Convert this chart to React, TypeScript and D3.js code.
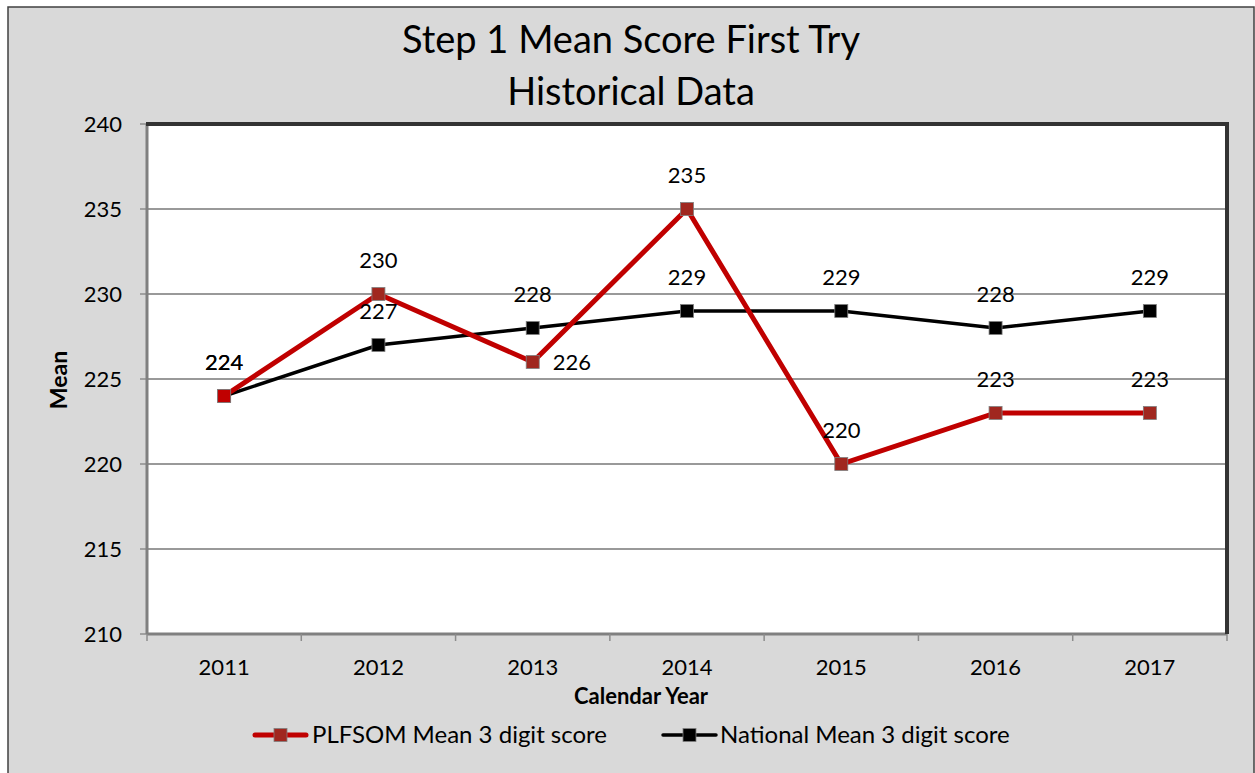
import React from 'react';
import * as d3 from 'd3';

const years = ['2011', '2012', '2013', '2014', '2015', '2016', '2017'];
const plfsomMean = [224, 230, 226, 235, 220, 223, 223];
const nationalMean = [224, 227, 228, 229, 229, 228, 229];
const yTicks = [210, 215, 220, 225, 230, 235, 240];
// label placement for PLFSOM points ('top' or 'right')
const plfsomLabelPos = ['top', 'top', 'right', 'top', 'top', 'top', 'top'];

const W = 1255;
const H = 773;
const PLOT = { LEFT: 147, RIGHT: 1227, TOP: 124, BOTTOM: 634 };
const FONT = 'Lato, "Open Sans", sans-serif';

export default function App(): JSX.Element {
  const x = d3
    .scaleBand<string>()
    .domain(years)
    .range([PLOT.LEFT, PLOT.RIGHT]);
  const y = d3.scaleLinear().domain([210, 240]).range([PLOT.BOTTOM, PLOT.TOP]);
  const cx = (yr: string): number => (x(yr) || 0) + x.bandwidth() / 2;

  const line = d3
    .line<number>()
    .x((_, i) => cx(years[i]))
    .y((d) => y(d));

  const marker = (px: number, py: number, fill: string, key: string) => (
    <rect
      key={key}
      x={px - 6.5}
      y={py - 6.5}
      width={13}
      height={13}
      fill={fill}
      stroke="#7f7f7f"
      strokeWidth={0.8}
    />
  );

  return (
    <div style={{ position: 'absolute', left: 0, top: 0 }}>
      <svg width={W} height={H} style={{ display: 'block', fontFamily: FONT }}>
        <rect x={0} y={0} width={W} height={H} fill="#ffffff" />
        {/* chart area */}
        <rect x={8} y={7} width={W - 9} height={H} fill="#d9d9d9" stroke="#404040" strokeWidth={1.5} />

        {/* title */}
        <text x={631} y={53} textAnchor="middle" fontSize={38} fill="#000">
          Step 1 Mean Score First Try
        </text>
        <text x={631} y={105} textAnchor="middle" fontSize={38} fill="#000">
          Historical Data
        </text>

        {/* plot area */}
        <rect
          x={PLOT.LEFT}
          y={PLOT.TOP}
          width={PLOT.RIGHT - PLOT.LEFT}
          height={PLOT.BOTTOM - PLOT.TOP}
          fill="#ffffff"
        />
        {yTicks.map((t) => (
          <g key={`g${t}`}>
            {t > 210 && t < 240 && (
              <line x1={PLOT.LEFT} x2={PLOT.RIGHT} y1={y(t)} y2={y(t)} stroke="#999999" strokeWidth={2} />
            )}
            <line x1={PLOT.LEFT - 7} x2={PLOT.LEFT} y1={y(t)} y2={y(t)} stroke="#8c8c8c" strokeWidth={1.5} />
            <text x={122} y={y(t)} dy="0.35em" textAnchor="end" fontSize={22} fill="#000">
              {t}
            </text>
          </g>
        ))}
        {/* frame: light left/bottom, heavy top/right */}
        <line x1={PLOT.LEFT} x2={PLOT.LEFT} y1={PLOT.TOP} y2={PLOT.BOTTOM} stroke="#808080" strokeWidth={3} />
        <line x1={PLOT.LEFT} x2={PLOT.RIGHT} y1={PLOT.BOTTOM} y2={PLOT.BOTTOM} stroke="#808080" strokeWidth={3} />
        <line x1={PLOT.LEFT - 1} x2={PLOT.RIGHT + 2} y1={PLOT.TOP} y2={PLOT.TOP} stroke="#333333" strokeWidth={4} />
        <line x1={PLOT.RIGHT} x2={PLOT.RIGHT} y1={PLOT.TOP} y2={PLOT.BOTTOM} stroke="#333333" strokeWidth={4} />

        {/* x ticks at category boundaries */}
        {years.concat(['end']).map((yr, i) => {
          const px = PLOT.LEFT + i * x.bandwidth();
          return (
            <line key={`xt${i}`} x1={px} x2={px} y1={PLOT.BOTTOM} y2={PLOT.BOTTOM + 7} stroke="#8c8c8c" strokeWidth={1.5} />
          );
        })}
        {years.map((yr) => (
          <text key={`xl${yr}`} x={cx(yr)} y={675} textAnchor="middle" fontSize={22} fill="#000">
            {yr}
          </text>
        ))}

        {/* axis titles */}
        <text
          transform="translate(67,380) rotate(-90)"
          textAnchor="middle"
          fontSize={23}
          fontWeight="bold"
          fill="#000"
        >
          Mean
        </text>
        <text x={641} y={704} textAnchor="middle" fontSize={22} fontWeight="bold" fill="#000">
          Calendar Year
        </text>

        {/* national series */}
        <path d={line(nationalMean) || ''} fill="none" stroke="#000000" strokeWidth={3.5} />
        {/* plfsom series */}
        <path d={line(plfsomMean) || ''} fill="none" stroke="#c00000" strokeWidth={5} />
        {nationalMean.map((v, i) => marker(cx(years[i]), y(v), '#000000', `nm${i}`))}
        {plfsomMean.map((v, i) => marker(cx(years[i]), y(v), i === 0 ? '#c00000' : '#a0271f', `pm${i}`))}

        {/* data labels */}
        {nationalMean.map((v, i) => (
          <text key={`nl${i}`} x={cx(years[i])} y={y(v) - 26} textAnchor="middle" fontSize={22} fill="#000">
            {v}
          </text>
        ))}
        {plfsomMean.map((v, i) =>
          plfsomLabelPos[i] === 'right' ? (
            <text key={`pl${i}`} x={cx(years[i]) + 20} y={y(v)} dy="0.35em" textAnchor="start" fontSize={22} fill="#000">
              {v}
            </text>
          ) : (
            <text key={`pl${i}`} x={cx(years[i])} y={y(v) - 26} textAnchor="middle" fontSize={22} fill="#000">
              {v}
            </text>
          ),
        )}

        {/* legend */}
        <line x1={255} x2={306} y1={735} y2={735} stroke="#c00000" strokeWidth={5} strokeLinecap="round" />
        {marker(280.5, 735, '#a0271f', 'lg1')}
        <text x={312} y={735} dy="0.35em" fontSize={24} fill="#000">
          PLFSOM Mean 3 digit score
        </text>
        <line x1={663} x2={716} y1={735} y2={735} stroke="#000000" strokeWidth={3.5} strokeLinecap="round" />
        {marker(689.5, 735, '#000000', 'lg2')}
        <text x={720} y={735} dy="0.35em" fontSize={24} fill="#000">
          National Mean 3 digit score
        </text>
      </svg>
    </div>
  );
}
